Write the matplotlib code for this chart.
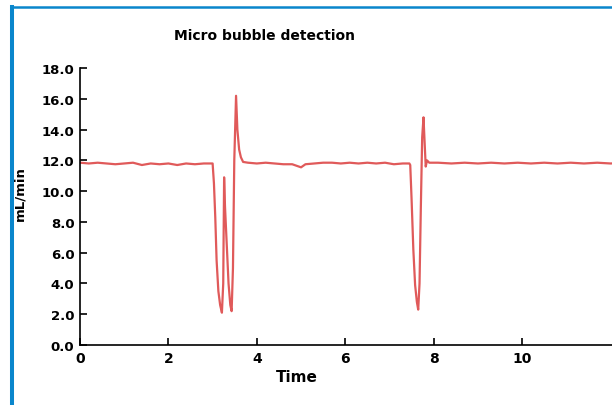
import matplotlib.pyplot as plt
from matplotlib.lines import Line2D

# flow trace (time, mL/min)
time = [0.0, 0.2, 0.4, 0.6, 0.8, 1.0, 1.2, 1.4, 1.6, 1.8, 2.0, 2.2, 2.4, 2.6, 2.8, 3.0,
        3.03, 3.06, 3.09, 3.13, 3.17, 3.21, 3.24, 3.26, 3.28, 3.32, 3.36, 3.40, 3.43,
        3.46, 3.49, 3.53, 3.56, 3.60, 3.64, 3.69, 3.8,
        4.0, 4.2, 4.4, 4.6, 4.8, 5.0, 5.1, 5.3, 5.5, 5.7, 5.9, 6.1, 6.3, 6.5, 6.7, 6.9,
        7.1, 7.3, 7.45,
        7.47, 7.50, 7.54, 7.58, 7.62, 7.65, 7.68, 7.71, 7.74, 7.77, 7.79, 7.82, 7.85, 7.9,
        8.1, 8.4, 8.7, 9.0, 9.3, 9.6, 9.9, 10.2, 10.5, 10.8, 11.1, 11.4, 11.7, 12.0, 12.5]
flow = [11.85, 11.8, 11.85, 11.8, 11.75, 11.8, 11.85, 11.7, 11.8, 11.75, 11.8, 11.7, 11.8, 11.75, 11.8, 11.8,
        10.5, 8.3, 5.5, 3.5, 2.6, 2.1, 4.0, 10.9, 9.0, 6.5, 4.0, 2.6, 2.2,
        5.0, 12.0, 16.2, 14.0, 12.7, 12.2, 11.9, 11.85,
        11.8, 11.85, 11.8, 11.75, 11.75, 11.55, 11.75, 11.8, 11.85, 11.85, 11.8, 11.85, 11.8, 11.85, 11.8, 11.85,
        11.75, 11.8, 11.8,
        11.7, 9.5, 6.2, 3.9, 2.8, 2.3, 4.0, 9.0, 13.5, 14.8, 13.5, 11.6, 12.0, 11.85,
        11.85, 11.8, 11.85, 11.8, 11.85, 11.8, 11.85, 11.8, 11.85, 11.8, 11.85, 11.8, 11.85, 11.8, 11.85]

xticks = [0, 2, 4, 6, 8, 10]
yticks = [0, 2, 4, 6, 8, 10, 12, 14, 16, 18]

fig = plt.figure(figsize=(6.12, 4.06), dpi=100)
ax = fig.add_axes([0.1307, 0.1478, 0.903, 0.682])

ax.plot(time, flow, color='#e05a5a', linewidth=1.6)

ax.set_xlim(0, 12.5)
ax.set_ylim(0, 18)
ax.set_xticks(xticks)
ax.set_xticklabels([str(v) for v in xticks], fontweight='bold', fontsize=10)
ax.set_yticks(yticks)
ax.set_yticklabels(['%.1f' % v for v in yticks], fontweight='bold', fontsize=9.5)
ax.tick_params(axis='both', direction='in', length=5, width=1.2, pad=4)
ax.spines['top'].set_visible(False)
ax.spines['right'].set_visible(False)
ax.spines['left'].set_linewidth(1.2)
ax.spines['bottom'].set_linewidth(1.2)

ax.set_xlabel('Time', fontweight='bold', fontsize=11)
ax.xaxis.set_label_coords(0.393, -0.085)
ax.set_ylabel('mL/min', fontweight='bold', fontsize=9.5)
ax.yaxis.set_label_coords(-0.097, 0.55)

fig.text(0.433, 0.911, 'Micro bubble detection', ha='center', va='center',
         fontweight='bold', fontsize=10)

# blue frame from the screenshot
fig.add_artist(Line2D([12 / 612, 12 / 612], [0, 1 - 8 / 406], transform=fig.transFigure,
                      color='#0a86cc', linewidth=2.9))
fig.add_artist(Line2D([12 / 612, 1], [1 - 8 / 406, 1 - 8 / 406], transform=fig.transFigure,
                      color='#0a86cc', linewidth=1.8))

fig.savefig('out.png', dpi=100)
